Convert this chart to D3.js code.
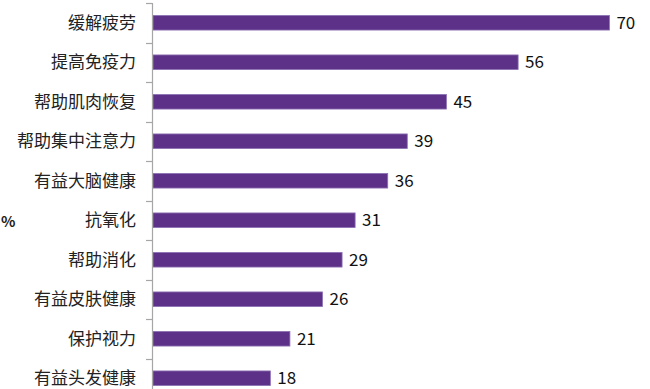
<!DOCTYPE html>
<html>
<head>
<meta charset="utf-8">
<script src="https://cdn.jsdelivr.net/npm/d3@7"></script>
<style>
  html, body { margin: 0; padding: 0; background: #fff; overflow: hidden; }
  svg { display: block; }
  text { font-family: "Noto Sans CJK SC", "Microsoft YaHei", sans-serif; }
</style>
</head>
<body>
<div id="chart"></div>
<script>
// Data
const categories = ['缓解疲劳', '提高免疫力', '帮助肌肉恢复', '帮助集中注意力', '有益大脑健康',
                    '抗氧化', '帮助消化', '有益皮肤健康', '保护视力', '有益头发健康'];
const values = [70, 56, 45, 39, 36, 31, 29, 26, 21, 18];
const unitLabel = '%';

const width = 650, height = 389;
const axisX = 152;

const svg = d3.select('#chart').append('svg')
    .attr('width', width).attr('height', height);

const y = d3.scaleBand()
    .domain(categories)
    .range([3, 398])
    .paddingInner(0.63)
    .paddingOuter(0.315);

const x = d3.scaleLinear()
    .domain([0, 80])
    .range([axisX + 1, axisX + 1 + 80 * 6.52]);

// bars
svg.append('g').selectAll('rect')
    .data(values)
    .join('rect')
    .attr('x', x(0))
    .attr('y', (d, i) => y(categories[i]))
    .attr('width', d => x(d) - x(0))
    .attr('height', y.bandwidth())
    .attr('fill', '#5e3189')
    .attr('stroke', '#8d72b3')
    .attr('stroke-width', 0.8);

// value labels
svg.append('g').selectAll('text')
    .data(values)
    .join('text')
    .attr('x', d => x(d) + 7)
    .attr('y', (d, i) => y(categories[i]) + y.bandwidth() / 2)
    .attr('dy', '0.36em')
    .attr('font-size', 17)
    .attr('fill', '#111')
    .text(d => d);

// category axis: vertical line with ticks at band boundaries
const axis = svg.append('g');
axis.append('line')
    .attr('x1', axisX + 0.5).attr('x2', axisX + 0.5)
    .attr('y1', y.range()[0]).attr('y2', y.range()[1])
    .attr('stroke', '#a6a6a6').attr('stroke-width', 1.2);

const bounds = categories.map(c => y(c) - y.step() * y.paddingInner() / 2);
axis.selectAll('line.tick')
    .data(bounds)
    .join('line')
    .attr('class', 'tick')
    .attr('x1', axisX - 6).attr('x2', axisX + 0.5)
    .attr('y1', d => Math.round(d) + 0.5).attr('y2', d => Math.round(d) + 0.5)
    .attr('stroke', '#a6a6a6').attr('stroke-width', 1.2);

axis.selectAll('text')
    .data(categories)
    .join('text')
    .attr('x', 136)
    .attr('y', d => y(d) + y.bandwidth() / 2)
    .attr('dy', '0.36em')
    .attr('text-anchor', 'end')
    .attr('font-size', 17)
    .attr('fill', '#222')
    .text(d => d);

// unit label at the left edge
svg.append('text')
    .attr('x', 1)
    .attr('y', 222)
    .attr('dy', '0.36em')
    .attr('font-size', 15)
    .attr('font-weight', 'bold')
    .attr('fill', '#222')
    .text(unitLabel);
</script>
</body>
</html>
